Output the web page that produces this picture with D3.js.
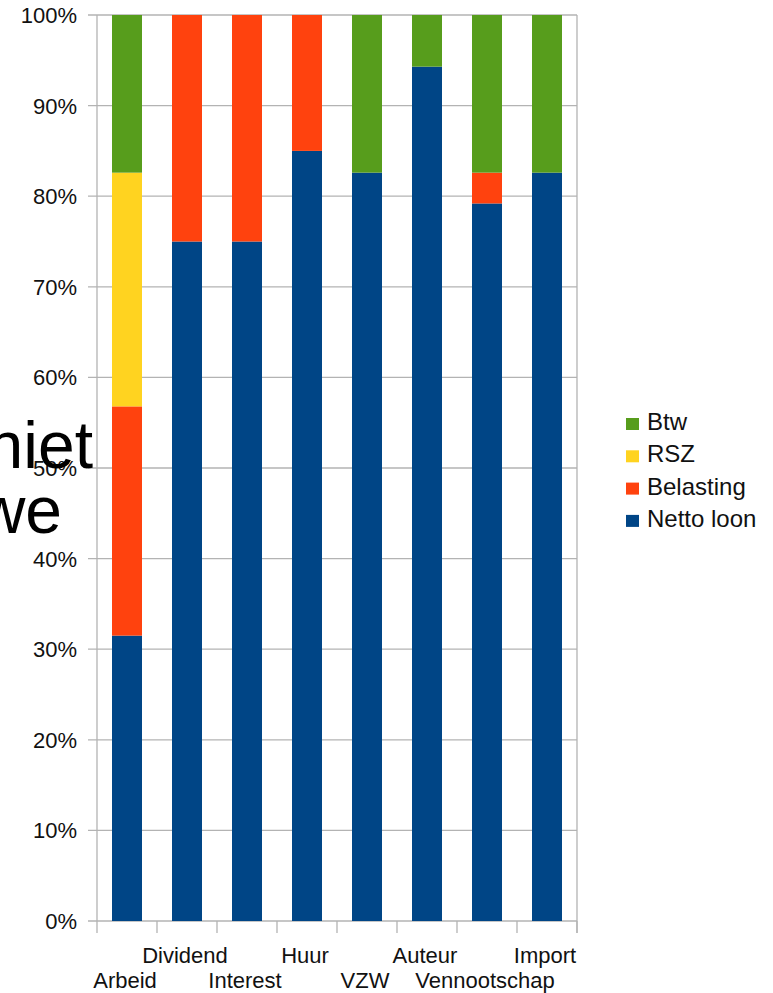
<!DOCTYPE html>
<html>
<head>
<meta charset="utf-8">
<title>Stacked 100%</title>
<script src="https://d3js.org/d3.v7.min.js"></script>
<style>
body { margin: 0; background: #fff; font-family: 'Liberation Sans', Arial, sans-serif; }
svg { display: block; }
</style>
</head>
<body>
<div id="chart"></div>
<script>

var width = 773;
var height = 993;

// data (percent of total, bottom to top)
var categories = ["Arbeid", "Dividend", "Interest", "Huur", "VZW", "Auteur", "Vennootschap", "Import"];
var nettoLoon = [31.5, 75, 75, 85, 82.6, 94.3, 79.2, 82.6];
var belasting = [25.3, 25, 25, 15, 0, 0, 3.4, 0];
var rsz       = [25.8, 0, 0, 0, 0, 0, 0, 0];
var btw       = [17.4, 0, 0, 0, 17.4, 5.7, 17.4, 17.4];
var seriesNames = ["Netto loon", "Belasting", "RSZ", "Btw"];
var seriesColors = ["#004586", "#ff420e", "#ffd320", "#579d1c"];
var yTicks = [0, 10, 20, 30, 40, 50, 60, 70, 80, 90, 100];

// plot area
var plotLeft = 97, plotRight = 577, plotTop = 15, plotBottom = 921;

var svg = d3.select("#chart").append("svg")
  .attr("width", width)
  .attr("height", height);

var rows = categories.map(function(c, i) {
  return {cat: c, "Netto loon": nettoLoon[i], "Belasting": belasting[i], "RSZ": rsz[i], "Btw": btw[i]};
});

var layers = d3.stack().keys(seriesNames)(rows);

var x = d3.scaleBand().domain(categories).range([plotLeft, plotRight]).paddingInner(0.5).paddingOuter(0.25);
var y = d3.scaleLinear().domain([0, 100]).range([plotBottom, plotTop]);
var color = d3.scaleOrdinal().domain(seriesNames).range(seriesColors);

// horizontal gridlines
svg.append("g")
  .selectAll("line")
  .data(yTicks)
  .enter().append("line")
    .attr("x1", plotLeft - 9)
    .attr("x2", plotRight)
    .attr("y1", d => y(d))
    .attr("y2", d => y(d))
    .style("stroke", "#b3b3b3")
    .style("stroke-width", 1.3);

// frame left/right
svg.append("line").attr("x1", plotLeft).attr("x2", plotLeft).attr("y1", plotTop).attr("y2", plotBottom + 12)
  .style("stroke", "#b3b3b3").style("stroke-width", 1.3);
svg.append("line").attr("x1", plotRight).attr("x2", plotRight).attr("y1", plotTop).attr("y2", plotBottom + 12)
  .style("stroke", "#b3b3b3").style("stroke-width", 1.3);

// x tick marks at category boundaries
var step = x.step();
svg.append("g")
  .selectAll("line")
  .data(categories)
  .enter().append("line")
    .attr("x1", d => x(d) - x.bandwidth() / 2 + step)
    .attr("x2", d => x(d) - x.bandwidth() / 2 + step)
    .attr("y1", plotBottom)
    .attr("y2", plotBottom + 12)
    .style("stroke", "#b3b3b3")
    .style("stroke-width", 1.3);

// bars
svg.append("g")
  .selectAll("g")
  .data(layers)
  .enter().append("g")
    .style("fill", d => color(d.key))
  .selectAll("rect")
  .data(d => d)
  .enter().append("rect")
    .attr("x", d => x(d.data.cat))
    .attr("width", x.bandwidth())
    .attr("y", d => y(d[1]))
    .attr("height", d => y(d[0]) - y(d[1]));

// y labels
svg.append("g")
  .selectAll("text")
  .data(yTicks)
  .enter().append("text")
    .attr("x", 77)
    .attr("y", d => y(d))
    .attr("dy", "0.36em")
    .attr("text-anchor", "end")
    .style("font-size", "22px")
    .style("fill", "#111")
    .text(d => d + "%");

// x labels (staggered)
svg.append("g")
  .selectAll("text")
  .data(categories)
  .enter().append("text")
    .attr("x", d => x(d) + x.bandwidth() / 2 - 2)
    .attr("y", (d, i) => i % 2 === 0 ? 988 : 963)
    .attr("text-anchor", "middle")
    .style("font-size", "22px")
    .style("fill", "#111")
    .text(d => d);

// legend (top item Btw)
var legendItems = seriesNames.slice().reverse();
var legend = svg.append("g")
  .selectAll("g")
  .data(legendItems)
  .enter().append("g")
    .attr("transform", (d, i) => "translate(626," + (430 + i * 32.3) + ")");
legend.append("rect")
  .attr("x", 0).attr("y", -12)
  .attr("width", 13).attr("height", 12)
  .style("fill", d => color(d));
legend.append("text")
  .attr("x", 21).attr("y", 0)
  .style("font-size", "24px")
  .style("fill", "#111")
  .text(d => d);

// stray text from behind the chart
svg.append("text").attr("x", 93).attr("y", 468).attr("text-anchor", "end")
  .style("font-size", "66px").style("fill", "#000").text("niet");
svg.append("text").attr("x", 62).attr("y", 533).attr("text-anchor", "end")
  .style("font-size", "66px").style("fill", "#000").text("we");

</script>
</body>
</html>
